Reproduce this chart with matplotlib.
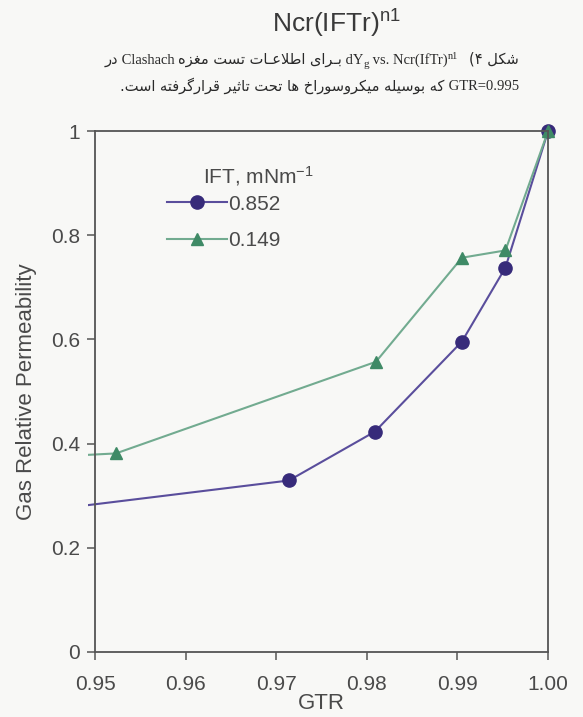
import matplotlib
matplotlib.use("Agg")
import matplotlib.pyplot as plt
from matplotlib.patches import Rectangle
from matplotlib.ticker import FixedLocator, FixedFormatter

plt.rcParams['font.family'] = ['Liberation Sans', 'DejaVu Sans']
plt.rcParams['mathtext.default'] = 'regular'

# GTR vs gas relative permeability for two IFT values (first point of each lies left of the plotted range)
gtr_852 = [0.940, 0.9714, 0.9809, 0.9905, 0.9953, 1.000]
krg_852 = [0.262, 0.329, 0.423, 0.596, 0.738, 1.000]
gtr_149 = [0.940, 0.9523, 0.9810, 0.9905, 0.9953, 1.000]
krg_149 = [0.370, 0.381, 0.557, 0.757, 0.771, 1.000]
ift_labels = ['0.852', '0.149']

xticks = [0.95, 0.96, 0.97, 0.98, 0.99, 1.00]
xtick_labels = ['0.95', '0.96', '0.97', '0.98', '0.99', '1.00']
yticks = [0, 0.2, 0.4, 0.6, 0.8, 1.0]
ytick_labels = ['0', '0.2', '0.4', '0.6', '0.8', '1']

# --- minimal Persian shaping (presentation forms, visual order) ---
FORMS = {
    'ا': ('\uFE8D', '\uFE8E'), 'د': ('\uFEA9', '\uFEAA'), 'ر': ('\uFEAD', '\uFEAE'),
    'ز': ('\uFEAF', '\uFEB0'), 'و': ('\uFEED', '\uFEEE'),
    'ب': ('\uFE8F', '\uFE90', '\uFE91', '\uFE92'), 'ت': ('\uFE95', '\uFE96', '\uFE97', '\uFE98'),
    'ث': ('\uFE99', '\uFE9A', '\uFE9B', '\uFE9C'), 'ح': ('\uFEA1', '\uFEA2', '\uFEA3', '\uFEA4'),
    'خ': ('\uFEA5', '\uFEA6', '\uFEA7', '\uFEA8'), 'س': ('\uFEB1', '\uFEB2', '\uFEB3', '\uFEB4'),
    'ش': ('\uFEB5', '\uFEB6', '\uFEB7', '\uFEB8'), 'ط': ('\uFEC1', '\uFEC2', '\uFEC3', '\uFEC4'),
    'ع': ('\uFEC9', '\uFECA', '\uFECB', '\uFECC'), 'غ': ('\uFECD', '\uFECE', '\uFECF', '\uFED0'),
    'ف': ('\uFED1', '\uFED2', '\uFED3', '\uFED4'), 'ق': ('\uFED5', '\uFED6', '\uFED7', '\uFED8'),
    'ل': ('\uFEDD', '\uFEDE', '\uFEDF', '\uFEE0'), 'م': ('\uFEE1', '\uFEE2', '\uFEE3', '\uFEE4'),
    'ه': ('\uFEE9', '\uFEEA', '\uFEEB', '\uFEEC'),
    '\u06A9': ('\uFB8E', '\uFB8F', '\uFB90', '\uFB91'), '\u0643': ('\uFED9', '\uFEDA', '\uFEDB', '\uFEDC'),
    '\u06AF': ('\uFB92', '\uFB93', '\uFB94', '\uFB95'),
    '\u06CC': ('\uFBFC', '\uFBFD', '\uFBFE', '\uFBFF'), '\u064A': ('\uFEF1', '\uFEF2', '\uFEF3', '\uFEF4'),
    '\u0640': ('\u0640', '\u0640', '\u0640', '\u0640'),
}


def shape(s):
    out = []
    i = 0
    while i < len(s):
        c = s[i]
        if c not in FORMS:
            out.append(c)
            i += 1
            continue
        prev = i > 0 and s[i - 1] in FORMS and len(FORMS[s[i - 1]]) == 4
        if c == 'ل' and i + 1 < len(s) and s[i + 1] == 'ا':
            out.append('\uFEFC' if prev else '\uFEFB')
            i += 2
            continue
        f = FORMS[c]
        nxt = len(f) == 4 and i + 1 < len(s) and s[i + 1] in FORMS
        if prev and nxt:
            out.append(f[3])
        elif prev:
            out.append(f[1])
        elif nxt:
            out.append(f[2])
        else:
            out.append(f[0])
        i += 1
    return ''.join(out)


def rtl(s):
    v = shape(s)[::-1]
    return v.translate(str.maketrans('()', ')('))


def put_line(fig, x_right, y, pieces):
    r = fig.canvas.get_renderer()
    x = x_right
    for txt, fam, size, dy in reversed(pieces):
        t = fig.text(x, y + dy / fig.bbox.height, txt, family=fam, fontsize=size,
                     ha='right', va='baseline', color='#2a2a2a')
        x -= t.get_window_extent(r).width / fig.bbox.width


fig = plt.figure(figsize=(5.83, 7.17), dpi=100, facecolor='#f8f8f6')
ax = fig.add_axes([0.163, 0.091, 0.777, 0.726])
ax.set_facecolor('#f8f8f6')

l1, = ax.plot(gtr_852, krg_852, '-o', color='#5a4e9c', lw=1.5, ms=9.5,
              mfc='#372b7a', mec='#372b7a', label=ift_labels[0])
l2, = ax.plot(gtr_149, krg_149, '-^', color='#72ab90', lw=1.5, ms=9,
              mfc='#3f8a66', mec='#3f8a66', label=ift_labels[1])
for ln in (l1, l2):
    ln.set_clip_path(Rectangle((-0.016, -0.05), 1.1, 1.1, transform=ax.transAxes))

ax.set_xlim(0.95, 1.00)
ax.set_ylim(0, 1)
ax.xaxis.set_major_locator(FixedLocator(xticks))
ax.xaxis.set_major_formatter(FixedFormatter(xtick_labels))
ax.yaxis.set_major_locator(FixedLocator(yticks))
ax.yaxis.set_major_formatter(FixedFormatter(ytick_labels))
ax.tick_params(direction='out', length=6, width=1.1, color='#555555',
               labelsize=15, labelcolor='#4a4a4a', pad=5)
ax.tick_params(axis='x', pad=11)
for sp in ax.spines.values():
    sp.set_color('#555555')
    sp.set_linewidth(1.3)

ax.set_xlabel('GTR', fontsize=16, color='#4a4a4a', labelpad=-1)
ax.set_ylabel('Gas Relative Permeability', fontsize=16, color='#4a4a4a', labelpad=10)

ax.text(0.239, 0.913, 'IFT, mNm$^{-1}$', transform=ax.transAxes, fontsize=15,
        color='#4a4a4a', va='center')
leg = ax.legend(loc='upper left', bbox_to_anchor=(0.159, 0.878), frameon=False,
                fontsize=15, handlelength=2.9, handletextpad=0.05, labelspacing=0.85,
                borderpad=0, borderaxespad=0)
for t in leg.get_texts():
    t.set_color('#4a4a4a')

fig.text(0.466, 0.966, 'Ncr(IFTr)$^{n1}$', fontsize=19, color='#3a3a3a', va='center')

fa = 'DejaVu Sans'
lat = 'Liberation Serif'
put_line(fig, 0.89, 0.911, [
    (rtl('در'), fa, 10.5, 0), (' Clashach ', lat, 10.5, 0),
    (rtl('بـرای اطلاعـات تست مغزه'), fa, 10.5, 0),
    (' dY', lat, 10.5, 0), ('g', lat, 8, -3), (' vs. Ncr(IfTr)', lat, 10.5, 0),
    ('n1', lat, 7.5, 5), ('   ', lat, 10.5, 0), (rtl('شکل ۴)'), fa, 10.5, 0),
])
put_line(fig, 0.89, 0.874, [
    (rtl('که بوسیله میکروسوراخ ها تحت تاثیر قرارگرفته است.'), fa, 10.5, 0),
    (' GTR=0.995', lat, 10.5, 0),
])

fig.savefig('out.png', dpi=100, facecolor=fig.get_facecolor())
